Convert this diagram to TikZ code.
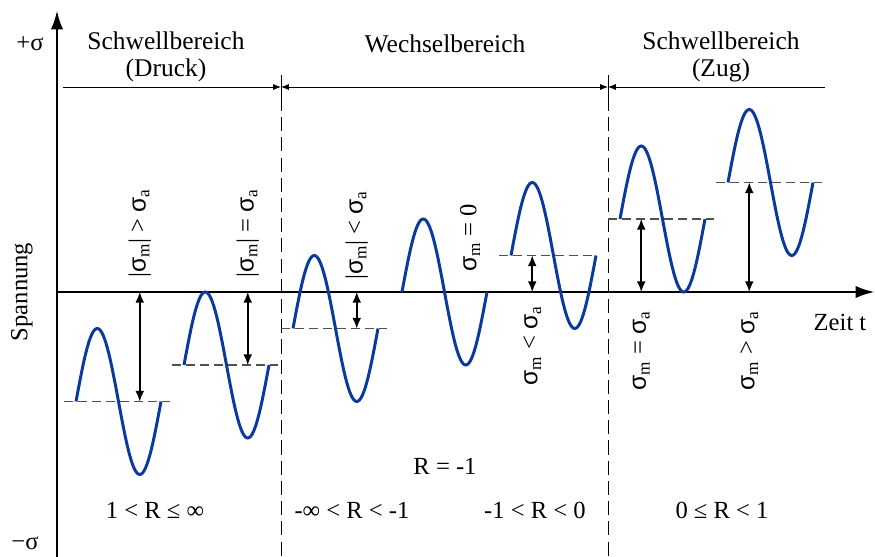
\documentclass[tikz,border=0pt]{standalone}
\usepackage{fontspec}
\setmainfont{Liberation Serif}
\newfontfamily\sigsans{Liberation Sans}
\usetikzlibrary{arrows.meta,positioning}
\definecolor{waveblue}{HTML}{0A3A9A}
\definecolor{meangray}{HTML}{505050}
\newcommand{\sg}{{\sigsans σ}}
\newcommand{\sgm}{\sg\textsubscript{m}}
\newcommand{\sga}{\sg\textsubscript{a}}
\tikzset{
  axisline/.style={line width=1.7pt, -{Latex[length=11pt,width=7pt]}},
  sectline/.style={line width=0.45pt, dash pattern=on 8pt off 3.5pt},
  dimline/.style={line width=0.5pt},
  dimtip/.tip={Latex[length=4.5pt,width=3.5pt]},
  wavepath/.style={draw=waveblue, line width=1.7pt},
  meanline/.style={draw=meangray, line width=0.6pt, dash pattern=on 5pt off 3pt},
  amparrow/.style={{Latex[length=6pt,width=5pt]}-{Latex[length=6pt,width=5pt]},
    line width=0.9pt},
  caselabel/.style={font=\fontsize{14}{16}\selectfont, rotate=90, inner sep=1pt},
  headlabel/.style={font=\fontsize{14.5}{15}\selectfont, align=center},
  rlabel/.style={font=\fontsize{14}{16}\selectfont},
}
\begin{document}
\begin{tikzpicture}[x=0.02cm, y=0.02cm]
  \useasboundingbox (-57,-265) rectangle (818,292);
  % axes
  \coordinate (o) at (0,0);
  \coordinate (ytop) at (0,282);
  \coordinate (ybot) at (0,-265);
  \coordinate (xend) at (818,0);
  \draw[axisline] (ybot) -- (ytop);
  \draw[axisline] (o) -- (xend);
  \node[rlabel] (plus) at (-27,248) {+σ};
  \node[rlabel] (minus) at (-32,-251) {−σ};
  \node[rlabel, rotate=90] (spannung) at (-35,0) {Spannung};
  \node[rlabel] (zeit) at (783,-30) {Zeit t};
  % region borders
  \foreach \b/\x in {b1/224, b2/551} {
    \coordinate (\b-top) at (\x,217);
    \coordinate (\b-mid) at (\x,195);
    \coordinate (\b-bot) at (\x,-265);
    \draw[dimline] (\b-top) -- (\b-mid);
    \draw[sectline] (\b-mid) -- (\b-bot);
  }
  \coordinate (d0) at (6,205);
  \coordinate (d1) at (224,205);
  \coordinate (d2) at (551,205);
  \coordinate (d3) at (768,205);
  \draw[dimline, -dimtip] (d0) -- (d1);
  \draw[dimline, dimtip-dimtip] (d1) -- (d2);
  \draw[dimline, dimtip-] (d2) -- (d3);
  \node[headlabel] (druck) at (109,235) {Schwellbereich\\(Druck)};
  \node[headlabel] (wechsel) at (388,248) {Wechselbereich};
  \node[headlabel] (zug) at (664,235) {Schwellbereich\\(Zug)};
  % waves
  \foreach \s/\m in {19/-109.5, 127/-73, 236/-36.5, 345/0, 454/36.5, 563/73, 671/109.5}
    \draw[wavepath] plot[domain=0:85, samples=61, variable=\t]
      ({\s+\t}, {\m+73*sin(\t/85*360)});
  % mean lines and amplitudes
  \foreach \i/\s/\m/\p/\e in {1/19/-109.5/63.75/94, 2/127/-73/63.75/94,
      3/236/-36.5/63.75/94, 5/454/36.5/21.25/85, 6/563/73/21.25/94,
      7/671/109.5/21.25/94} {
    \coordinate (m\i-l) at ({\s-12},\m);
    \coordinate (m\i-r) at ({\s+\e},\m);
    \coordinate (m\i) at ({\s+\p},\m);
    \coordinate (z\i) at ({\s+\p},0);
    \draw[meanline] (m\i-l) -- (m\i-r);
    \draw[amparrow] (z\i) -- (m\i);
  }
  % case labels
  \node[caselabel, anchor=west] (c1) at (82.75,12) {|\sgm| > \sga};
  \node[caselabel, anchor=west] (c2) at (190.75,12) {|\sgm| = \sga};
  \node[caselabel, anchor=west] (c3) at (299.75,10) {|\sgm| < \sga};
  \node[caselabel, anchor=west] (c4) at (413,18) {\sgm\ = 0};
  \node[caselabel, anchor=east] (c5) at (475.25,-12) {\sgm\ < \sga};
  \node[caselabel, anchor=east] (c6) at (584.25,-17) {\sgm\ = \sga};
  \node[caselabel, anchor=east] (c7) at (692.25,-17) {\sgm\ > \sga};
  % R ranges
  \node[rlabel] (r0) at (388,-174) {R = -1};
  \node[rlabel] (r1) at (98,-218) {1 < R ≤ ∞};
  \node[rlabel] (r2) at (295,-218) {-∞ < R < -1};
  \node[rlabel] (r3) at (478,-218) {-1 < R < 0};
  \node[rlabel] (r4) at (665,-218) {0 ≤ R < 1};
\end{tikzpicture}
\end{document}
